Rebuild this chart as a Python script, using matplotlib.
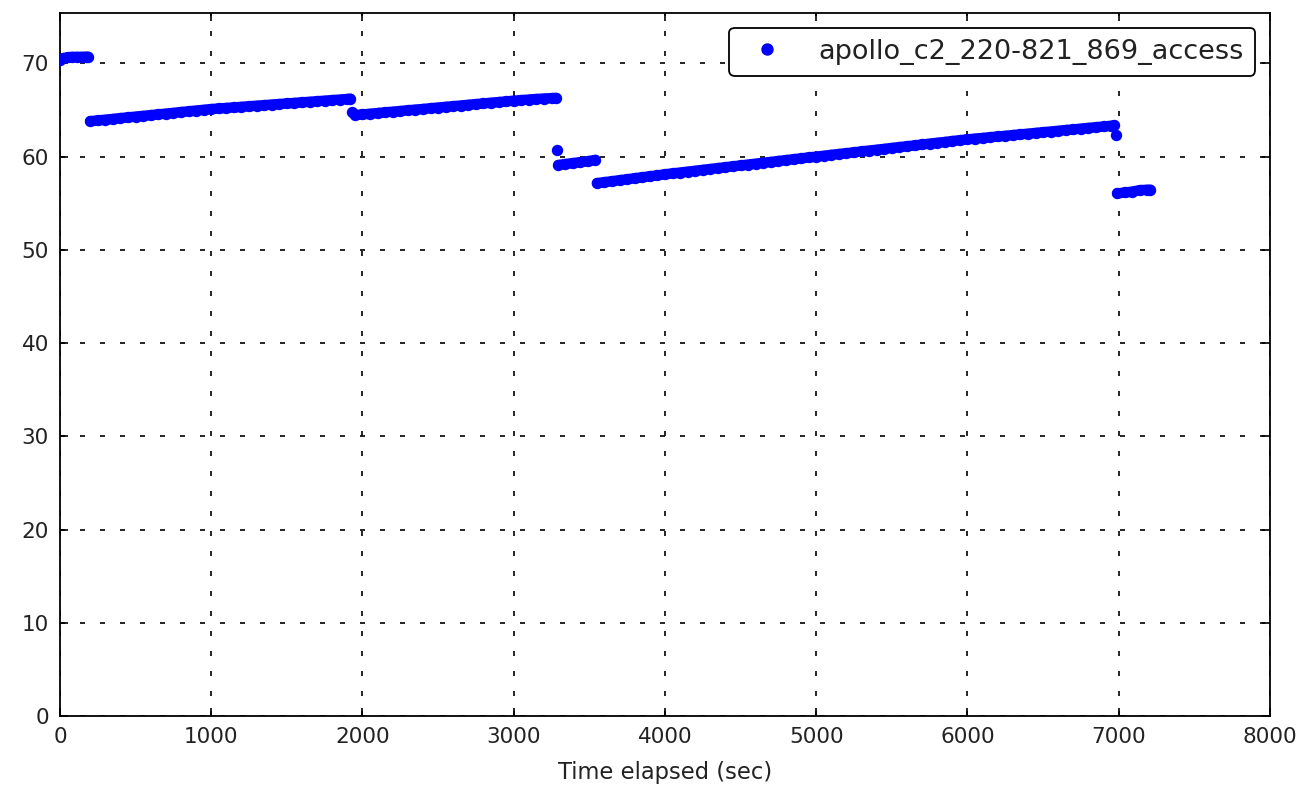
import matplotlib
matplotlib.use("Agg")
import matplotlib.pyplot as plt

series_label = "apollo_c2_220-821_869_access"
x_label = "Time elapsed (sec)"
x_ticks = [0, 1000, 2000, 3000, 4000, 5000, 6000, 7000, 8000]
y_ticks = [0, 10, 20, 30, 40, 50, 60, 70]

# segment 1
t1 = [0, 20, 50, 80, 110, 140, 170, 185]
v1 = [70.35, 70.55, 70.65, 70.7, 70.7, 70.7, 70.72, 70.72]
# segment 2
t2 = [200, 250, 300, 350, 400, 450, 500, 550, 600, 650, 700, 750, 800, 850,
      900, 950, 1000, 1050, 1100, 1150, 1200, 1250, 1300, 1350, 1400, 1450,
      1500, 1550, 1600, 1650, 1700, 1750, 1800, 1850, 1900, 1920]
v2 = [63.80, 63.88, 63.96, 64.04, 64.13, 64.21, 64.29, 64.37, 64.45, 64.53,
      64.61, 64.69, 64.78, 64.86, 64.94, 65.02, 65.10, 65.16, 65.22, 65.28,
      65.34, 65.40, 65.46, 65.52, 65.58, 65.64, 65.70, 65.76, 65.82, 65.88,
      65.94, 66.00, 66.06, 66.12, 66.18, 66.22]
# transition point
t3a = [1932]
v3a = [64.8]
# segment 3
t3 = [1950, 2000, 2050, 2100, 2150, 2200, 2250, 2300, 2350, 2400, 2450, 2500,
      2550, 2600, 2650, 2700, 2750, 2800, 2850, 2900, 2950, 3000, 3050, 3100,
      3150, 3200, 3250, 3280]
v3 = [64.45, 64.52, 64.60, 64.67, 64.75, 64.82, 64.89, 64.97, 65.04, 65.11,
      65.19, 65.26, 65.34, 65.41, 65.48, 65.56, 65.63, 65.70, 65.78, 65.85,
      65.92, 66.00, 66.06, 66.12, 66.18, 66.23, 66.27, 66.30]
# isolated point
t4a = [3285]
v4a = [60.75]
# segment 4
t4 = [3295, 3340, 3390, 3440, 3490, 3540]
v4 = [59.1, 59.2, 59.3, 59.4, 59.5, 59.65]
# segment 5
t5 = [3550, 3600, 3650, 3700, 3750, 3800, 3850, 3900, 3950, 4000, 4050, 4100,
      4150, 4200, 4250, 4300, 4350, 4400, 4450, 4500, 4550, 4600, 4650, 4700,
      4750, 4800, 4850, 4900, 4950, 5000, 5050, 5100, 5150, 5200, 5250, 5300,
      5350, 5400, 5450, 5500, 5550, 5600, 5650, 5700, 5750, 5800, 5850, 5900,
      5950, 6000, 6050, 6100, 6150, 6200, 6250, 6300, 6350, 6400, 6450, 6500,
      6550, 6600, 6650, 6700, 6750, 6800, 6850, 6900, 6950, 6970]
v5 = [57.15, 57.26, 57.36, 57.47, 57.57, 57.68, 57.78, 57.89, 57.99, 58.10,
      58.20, 58.29, 58.39, 58.48, 58.58, 58.67, 58.77, 58.86, 58.96, 59.05,
      59.15, 59.24, 59.34, 59.43, 59.53, 59.62, 59.72, 59.81, 59.91, 60.00,
      60.09, 60.19, 60.28, 60.37, 60.46, 60.56, 60.65, 60.74, 60.83, 60.93,
      61.02, 61.11, 61.20, 61.30, 61.39, 61.48, 61.57, 61.67, 61.76, 61.85,
      61.93, 62.00, 62.08, 62.16, 62.23, 62.31, 62.39, 62.46, 62.54, 62.62,
      62.69, 62.77, 62.85, 62.92, 63.00, 63.08, 63.15, 63.23, 63.31, 63.35]
# isolated point
t6a = [6980]
v6a = [62.35]
# segment 6
t6 = [6990, 7040, 7090, 7140, 7190, 7210]
v6 = [56.05, 56.15, 56.25, 56.4, 56.45, 56.45]

times = t1 + t2 + t3a + t3 + t4a + t4 + t5 + t6a + t6
values = v1 + v2 + v3a + v3 + v4a + v4 + v5 + v6a + v6
segments = [(t1, v1), (t2, v2), (t3, v3), (t4, v4), (t5, v5), (t6, v6)]

fig = plt.figure(figsize=(13.04, 7.99), dpi=100)
ax = fig.add_axes([0.046, 0.1039, 0.9279, 0.8798])

# dense sample streaks (the samples overlap into continuous bands)
for ts, vs in segments:
    ax.plot(ts, vs, linestyle="-", linewidth=7.5, color="blue",
            solid_capstyle="round", solid_joinstyle="round", zorder=3)
ax.plot(times, values, linestyle="none", marker="o", markersize=7.2,
        color="blue", markeredgecolor="blue", label=series_label, zorder=3)

ax.set_xlim(0, 8000)
ax.set_ylim(0, 75.4)
ax.set_xticks(x_ticks)
ax.set_yticks(y_ticks)
ax.tick_params(direction="in", length=5.5, width=1.2, top=True, right=True,
               labelsize=15.5, pad=8, labelcolor="#222222")
for sp in ax.spines.values():
    sp.set_linewidth(1.3)
ax.grid(True, color="black", linestyle=(0, (3, 9)), linewidth=1.2)
ax.set_xlabel(x_label, fontsize=16.3, labelpad=10, color="#222222")

leg = ax.legend(loc="upper right", numpoints=1, fontsize=19.5, markerscale=1.1,
                fancybox=True, framealpha=1, edgecolor="black",
                borderpad=0.4, handletextpad=0.9, borderaxespad=0.55)
leg.get_frame().set_linewidth(1.3)
for txt in leg.get_texts():
    txt.set_color("#222222")

fig.savefig("out.png", dpi=100)
